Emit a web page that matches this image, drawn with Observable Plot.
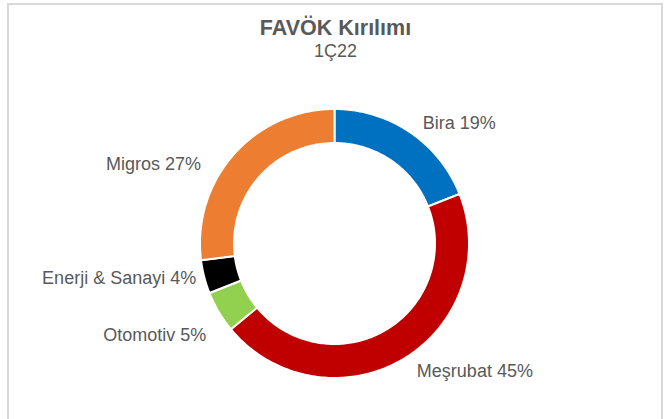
<!DOCTYPE html>
<html>
<head>
<meta charset="utf-8">
<script src="https://cdn.jsdelivr.net/npm/d3@7"></script>
<script src="https://cdn.jsdelivr.net/npm/@observablehq/plot@0.6"></script>
<style>
  html, body { margin: 0; padding: 0; background: #fff; }
  #wrap { position: relative; width: 671px; height: 419px; overflow: hidden; font-family: "Liberation Sans", Arial, sans-serif; }
  #frame { position: absolute; left: 7px; top: 3px; width: 656px; height: 440px; box-sizing: border-box; border: 2px solid #d9d9d9; }
  #title { position: absolute; left: 0; width: 671px; top: 16px; text-align: center; font-size: 21.5px; font-weight: bold; color: #595959; line-height: 1.15; }
  #subtitle { position: absolute; left: 0; width: 671px; top: 41px; text-align: center; font-size: 18px; color: #595959; line-height: 1.15; }
  #chart { position: absolute; left: 0; top: 68px; }
</style>
</head>
<body>
<div id="wrap">
  <div id="frame"></div>
  <div id="title">FAVÖK Kırılımı</div>
  <div id="subtitle">1Ç22</div>
  <div id="chart"></div>
</div>
<script>
// ---- data ----
const categories = ["Bira", "Meşrubat", "Otomotiv", "Enerji & Sanayi", "Migros"];
const shares = [19, 45, 5, 4, 27];
const colors = ["#0070C0", "#C00000", "#92D050", "#000000", "#ED7D31"];

// ---- layout ----
const W = 671, H = 351;          // svg size
const cx = 334, cy = 175;        // donut centre in svg pixels
const rOuter = 134.5, rInner = 100.5, rLabel = 150;
const labelNudge = [[4, -4], [6, 1], [1, -15], [7, 3], [-21, -20]]; // [dx, dy] in px (y up)

const data = categories.map((name, i) => ({ name, value: shares[i] }));
const arcs = d3.pie().sort(null).value(d => d.value)(data);

// polygon outline for each ring segment
const rings = [];
arcs.forEach(a => {
  const n = Math.max(4, Math.ceil((a.endAngle - a.startAngle) / (Math.PI / 180)));
  const pts = [];
  for (let k = 0; k <= n; k++) {
    const t = a.startAngle + (a.endAngle - a.startAngle) * k / n;
    pts.push([rOuter * Math.sin(t), rOuter * Math.cos(t)]);
  }
  for (let k = n; k >= 0; k--) {
    const t = a.startAngle + (a.endAngle - a.startAngle) * k / n;
    pts.push([rInner * Math.sin(t), rInner * Math.cos(t)]);
  }
  pts.push(pts[0]);
  pts.forEach(([x, y]) => rings.push({ name: a.data.name, x, y }));
});

const labels = arcs.map((a, i) => {
  const m = (a.startAngle + a.endAngle) / 2;
  return {
    text: `${a.data.name} ${a.data.value}%`,
    x: rLabel * Math.sin(m) + labelNudge[i][0],
    y: rLabel * Math.cos(m) + labelNudge[i][1]
  };
});

const chart = Plot.plot({
  width: W,
  height: H,
  margin: 0,
  x: { domain: [-cx, W - cx], axis: null },
  y: { domain: [-(H - cy), cy], axis: null },
  color: { domain: categories, range: colors },
  marks: [
    Plot.line(rings, { x: "x", y: "y", z: "name", fill: "name", stroke: "white", strokeWidth: 2, curve: "linear" }),
    Plot.text(labels.filter(d => d.x >= 0), { x: "x", y: "y", text: "text", textAnchor: "start", fontSize: 18, fill: "#595959", fontFamily: "Liberation Sans, Arial, sans-serif" }),
    Plot.text(labels.filter(d => d.x < 0), { x: "x", y: "y", text: "text", textAnchor: "end", fontSize: 18, fill: "#595959", fontFamily: "Liberation Sans, Arial, sans-serif" })
  ]
});
document.getElementById("chart").appendChild(chart);
</script>
</body>
</html>
